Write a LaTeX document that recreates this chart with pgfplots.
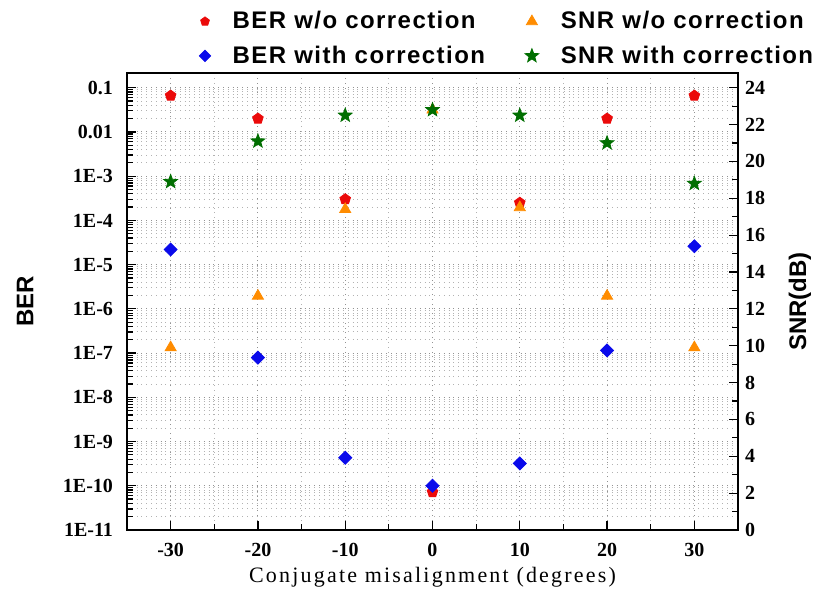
\documentclass[border=0pt]{standalone}
\usepackage{fontspec}
\setmainfont{Liberation Serif}
\newfontfamily\arial{Liberation Sans}
\newfontfamily\legfont[LetterSpace=6]{Liberation Sans}
\newfontfamily\xlabfont[LetterSpace=10]{Liberation Serif}
\usepackage{pgfplots}
\pgfplotsset{compat=1.18}
\definecolor{cRed}{RGB}{235,10,10}
\definecolor{cBlue}{RGB}{10,10,235}
\definecolor{cOrange}{RGB}{255,140,0}
\definecolor{cGreen}{RGB}{0,110,0}

% filled five-point star
\pgfdeclareplotmark{fstar}{%
  \pgfpathmoveto{\pgfpointpolar{90}{\pgfplotmarksize}}%
  \pgfpathlineto{\pgfpointpolar{126}{0.42\pgfplotmarksize}}%
  \pgfpathlineto{\pgfpointpolar{162}{\pgfplotmarksize}}%
  \pgfpathlineto{\pgfpointpolar{198}{0.42\pgfplotmarksize}}%
  \pgfpathlineto{\pgfpointpolar{234}{\pgfplotmarksize}}%
  \pgfpathlineto{\pgfpointpolar{270}{0.42\pgfplotmarksize}}%
  \pgfpathlineto{\pgfpointpolar{306}{\pgfplotmarksize}}%
  \pgfpathlineto{\pgfpointpolar{342}{0.42\pgfplotmarksize}}%
  \pgfpathlineto{\pgfpointpolar{18}{\pgfplotmarksize}}%
  \pgfpathlineto{\pgfpointpolar{54}{0.42\pgfplotmarksize}}%
  \pgfpathclose\pgfusepathqfillstroke}

\pgfplotsset{
  base/.style={scale only axis, width=305.5pt, height=228.5pt,
    xmin=-35, xmax=35,
    axis line style={line width=1pt},
    tick style={black, line width=0.6pt},
    /pgf/number format/assume math mode=true,
    tick label style={font=\fontsize{10}{12}\selectfont\bfseries},
    label style={font=\fontsize{12}{14}\selectfont\arial\bfseries}},
}

\begin{document}
\begin{tikzpicture}
\begin{axis}[base,
  ymode=log, ymin=1e-11, ymax=0.215,
  xtick={-30,-20,...,30}, minor x tick num=1,
  ytick={1e-11,1e-10,1e-9,1e-8,1e-7,1e-6,1e-5,1e-4,1e-3,1e-2,1e-1},
  yticklabels={1E-11,1E-10,1E-9,1E-8,1E-7,1E-6,1E-5,1E-4,1E-3,0.01,0.1},
  xtick pos=bottom, ytick pos=left,
  grid=both,
  major grid style={gray!85, dotted, line width=0.5pt},
  minor grid style={gray!60, dotted, line width=0.5pt},
  xticklabel style={yshift=-3pt},
  yticklabel style={xshift=-3.5pt},
  xlabel={\xlabfont\mdseries\fontsize{11}{13}\selectfont Conjugate misalignment (degrees)},
  xlabel style={at={(rel axis cs:0.5,0)}, anchor=center, yshift=-23.5pt},
  ylabel={BER},
  ylabel style={at={(rel axis cs:0,0.5)}, anchor=center, rotate=0, yshift=51pt},
]
\coordinate (SW) at (rel axis cs:0,0);
\coordinate (NE) at (rel axis cs:1,1);
% BER w/o correction
\addplot[only marks, mark=pentagon*, mark size=2.8pt, color=cRed] coordinates {
  (-30,0.066) (-20,0.02) (-10,3.0e-4) (0,7.2e-11) (10,2.5e-4) (20,0.02) (30,0.066)};
% BER with correction
\addplot[only marks, mark=square*, mark size=2.3pt, mark options={rotate=45}, color=cBlue] coordinates {
  (-30,2.2e-5) (-20,7.9e-8) (-10,4.3e-10) (0,1.0e-10) (10,3.2e-10) (20,1.15e-7) (30,2.6e-5)};
\end{axis}

\begin{axis}[base,
  axis x line=none, axis y line*=right,
  ymin=0, ymax=24.8,
  ytick={0,2,...,24}, minor y tick num=1,
  ylabel={SNR(dB)},
  ylabel style={at={(rel axis cs:1,0.5)}, anchor=center, yshift=-31pt},
  legend columns=2,
  legend style={at={(0.624,1.075)}, anchor=center, draw=none, fill=none,
    font=\legfont\bfseries\fontsize{12}{14}\selectfont,
    row sep=3pt, cells={anchor=west},
    /tikz/every odd column/.append style={column sep=9pt},
    /tikz/every even column/.append style={column sep=18pt}},
]
\addlegendimage{only marks, mark=pentagon*, mark size=2.3pt, color=cRed}
\addlegendentry{BER w/o correction}
% SNR w/o correction
\addplot[only marks, mark=triangle*, mark size=3.2pt, color=cOrange] coordinates {
  (-30,9.9) (-20,12.7) (-10,17.4) (0,22.8) (10,17.5) (20,12.7) (30,9.9)};
\addlegendentry{SNR w/o correction}
\addlegendimage{only marks, mark=square*, mark size=2pt, mark options={rotate=45}, color=cBlue}
\addlegendentry{BER with correction}
% SNR with correction
\addplot[only marks, mark=fstar, mark size=3.6pt, color=cGreen] coordinates {
  (-30,18.9) (-20,21.1) (-10,22.5) (0,22.8) (10,22.5) (20,21.0) (30,18.8)};
\addlegendentry{SNR with correction}
\end{axis}

\pgfresetboundingbox
\path ([shift={(-63.5pt,-32pt)}]SW) rectangle ([shift={(39.5pt,36.5pt)}]NE);
\end{tikzpicture}
\end{document}
